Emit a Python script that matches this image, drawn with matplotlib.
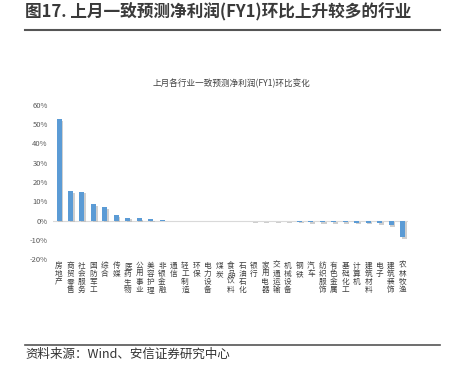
import matplotlib
matplotlib.use("Agg")
import matplotlib.pyplot as plt
import matplotlib.patheffects as pe
from matplotlib.lines import Line2D

plt.rcParams['font.family'] = ['Noto Sans CJK SC', 'DejaVu Sans']

industries = ["房地产", "商贸零售", "社会服务", "国防军工", "综合", "传媒", "医药生物", "公用事业",
              "美容护理", "非银金融", "通信", "轻工制造", "环保", "电力设备", "煤炭", "食品饮料",
              "石油石化", "银行", "家用电器", "交通运输", "机械设备", "钢铁", "汽车", "纺织服饰",
              "有色金属", "基础化工", "计算机", "建筑材料", "电子", "建筑装饰", "农林牧渔"]
values = [52.7, 15.4, 15.0, 8.6, 7.0, 2.9, 1.5, 1.1, 0.6, 0.1, -0.05, -0.05, -0.05, -0.1, -0.1,
          -0.1, -0.15, -0.2, -0.3, -0.4, -0.5, -0.6, -0.7, -0.8, -0.9, -1.0, -1.1, -1.2, -1.4,
          -2.5, -8.5]
yticks = [-20, -10, 0, 10, 20, 30, 40, 50, 60]

W, H = 455, 377
fig = plt.figure(figsize=(W / 100, H / 100), dpi=100)

def fx(px):
    return px / W

def fy(py):
    return 1 - py / H

# header title
fig.text(fx(25), fy(12), "图17. 上月一致预测净利润(FY1)环比上升较多的行业", fontsize=12,
         fontweight='bold', color='#3a3a3a', va='center', ha='left')
fig.add_artist(Line2D([fx(25), fx(440)], [fy(30), fy(30)], color='#555555', lw=1.5))
# bottom line + source
fig.add_artist(Line2D([fx(25), fx(440)], [fy(345), fy(345)], color='#555555', lw=1.2))
fig.text(fx(25), fy(354), "资料来源：Wind、安信证券研究中心", fontsize=9, color='#333333',
         va='center', ha='left', style='italic')

# chart title
fig.text(fx(232), fy(83), "上月各行业一致预测净利润(FY1)环比变化", fontsize=6.2, color='#404040',
         ha='center', va='center')

ax = fig.add_axes([fx(53.3), fy(259), fx(408.2) - fx(53.3), (259 - 105) / H])
x = list(range(len(industries)))
bars = ax.bar(x, values, width=0.44, color='#5B9BD5', zorder=3)
for b in bars:
    b.set_path_effects([pe.SimplePatchShadow(offset=(1.2, -1.2), shadow_rgbFace='#bbbbbb', alpha=0.7),
                        pe.Normal()])
ax.set_xlim(-0.5, len(industries) - 0.5)
ax.set_ylim(-20, 60)
ax.set_yticks(yticks)
ax.set_yticklabels([f"{t}%" for t in yticks], fontsize=5.5, color='#595959')
ax.axhline(0, color='#d9d9d9', lw=0.8, zorder=2)
for s in ax.spines.values():
    s.set_visible(False)
ax.tick_params(axis='both', length=0, pad=4)
ax.set_xticks([])
for i, name in enumerate(industries):
    ax.text(i, -21.5, "\n".join(name), ha='center', va='top', fontsize=5.5, color='#404040',
            linespacing=1.0, clip_on=False)

fig.savefig("out.png", dpi=100)
